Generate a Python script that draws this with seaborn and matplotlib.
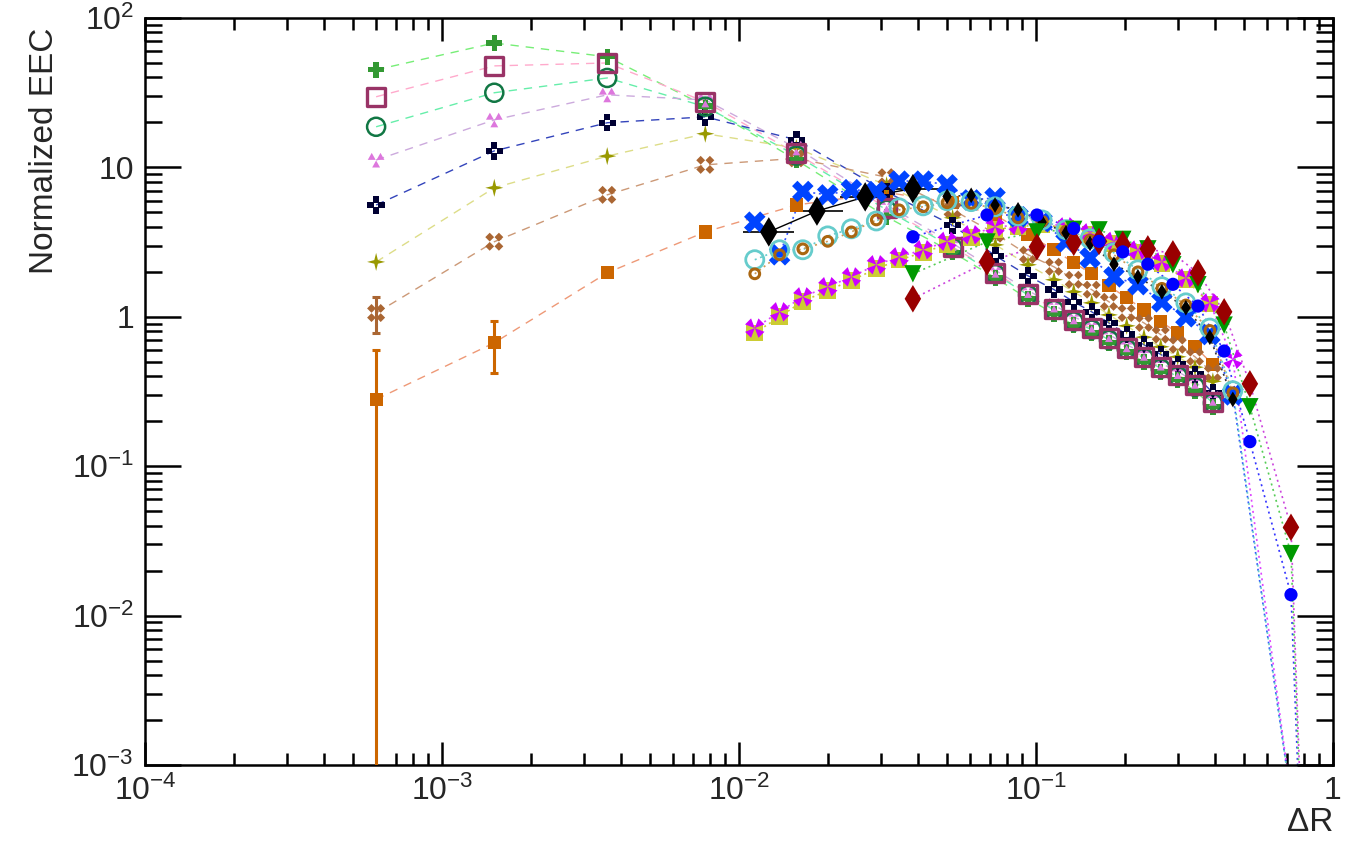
import numpy as np
import pandas as pd
import matplotlib
matplotlib.use("Agg")
import matplotlib.pyplot as plt
from matplotlib.path import Path
from matplotlib.ticker import LogLocator, FuncFormatter, NullFormatter
import seaborn as sns

# ---------------------------------------------------------------- data
# Delta R bin centres: wide bins at small angle, finer ones at large angle
dr_wide = [6.0e-4, 1.5e-3, 3.6e-3, 7.7e-3, 1.56e-2, 3.14e-2, 5.24e-2, 7.3e-2, 9.4e-2,
           0.115, 0.134, 0.154, 0.176, 0.202, 0.231, 0.263, 0.300, 0.343, 0.394]
dr_fine = [0.0113, 0.0137, 0.0164, 0.0199, 0.0239, 0.0290, 0.0346, 0.0417, 0.0502,
           0.0605, 0.0728, 0.0870, 0.1048, 0.1262, 0.1520, 0.1830, 0.2204, 0.2654,
           0.3196, 0.3849, 0.4600]
dr_black = [0.0126, 0.0183, 0.0266, 0.0385]
dr_black_fine = [0.0502, 0.0605, 0.0728, 0.0870, 0.1048, 0.1262, 0.1520, 0.1830,
                 0.2204, 0.2654, 0.3196, 0.3849, 0.4600]
dr_tail = [0.0385, 0.0684, 0.1007, 0.134, 0.163, 0.196, 0.238, 0.289, 0.351, 0.430,
           0.525, 0.722, 0.870]

# EEC values, wide-bin samples
eec_green_cross = [45, 68, 55, 25.8, 11.2, 4.67, 2.7, 1.82, 1.32,
                   1.05, 0.88, 0.78, 0.67, 0.58, 0.50, 0.43, 0.38, 0.32, 0.25]
eec_open_square = [29.7, 47.8, 50, 27.5, 12.4, 5.36, 2.94, 1.97, 1.43,
                   1.13, 0.95, 0.84, 0.72, 0.62, 0.54, 0.46, 0.41, 0.35, 0.27]
eec_open_circle = [18.7, 31.6, 39.7, 25.5, 12.0, 5.2, 2.9, 1.93, 1.40,
                   1.11, 0.93, 0.82, 0.70, 0.61, 0.53, 0.45, 0.40, 0.34, 0.265]
eec_triangles = [11.2, 20.8, 30.6, 28.3, 13.5, 5.6, 3.1, 2.05, 1.5,
                 1.2, 1.0, 0.88, 0.76, 0.65, 0.57, 0.49, 0.43, 0.37, 0.285]
eec_checker = [5.6, 12.9, 19.9, 21.8, 15.3, 6.85, 4.1, 2.56, 1.88,
               1.52, 1.26, 1.08, 0.91, 0.76, 0.65, 0.56, 0.48, 0.41, 0.31]
eec_star = [2.33, 7.3, 11.9, 16.8, 13.5, 7.6, 4.6, 3.03, 2.23,
            1.77, 1.47, 1.24, 1.03, 0.87, 0.73, 0.63, 0.54, 0.46, 0.37]
eec_clover = [1.06, 3.18, 6.55, 10.4, 11.5, 8.6, 5.2, 3.6, 2.6,
              2.16, 1.77, 1.52, 1.26, 1.06, 0.91, 0.76, 0.65, 0.54, 0.42]
eec_orange = [0.28, 0.67, 1.97, 3.7, 5.6, 6.8, 5.8, 4.8, 3.54,
              2.81, 2.3, 1.94, 1.61, 1.34, 1.11, 0.93, 0.78, 0.63, 0.48]

# EEC values, fine-bin samples
eec_blue_x = [4.3, 2.6, 6.9, 6.55, 7.1, 6.9, 8.1, 8.1, 7.65, 6.06, 6.25, 4.67, 4.33,
              3.18, 2.48, 1.85, 1.64, 1.26, 1.0, 0.76, 0.30]
eec_cyan = [2.41, 2.81, 2.81, 3.48, 3.88, 4.38, 5.36, 5.53, 5.98, 5.9, 5.45, 4.74,
            4.45, 3.83, 3.33, 2.68, 2.06, 1.59, 1.24, 0.84, 0.32]
eec_ring = [1.94, 2.6, 2.85, 3.2, 3.7, 4.45, 5.2, 5.45, 5.8, 5.75, 5.3, 4.6, 4.35,
            3.75, 3.25, 2.6, 2.0, 1.55, 1.2, 0.81, 0.31]
eec_pinwheel = [0.84, 1.08, 1.36, 1.59, 1.85, 2.23, 2.52, 2.81, 3.2, 3.54, 4.0, 4.1,
                4.3, 4.0, 3.65, 3.2, 2.8, 2.33, 1.82, 1.24, 0.52]
eec_yellow = [0.78, 1.0, 1.27, 1.5, 1.75, 2.1, 2.4, 2.7, 3.05, 3.4, 3.85, 4.0, 4.15,
              3.9, 3.55, 3.1, 2.72, 2.27, 1.78, 1.22]
eec_black = [3.7, 5.1, 6.35, 7.2]
eec_black_small = [6.4, 6.5, 5.6, 5.2, 4.3, 3.65, 3.1, 2.25, 1.85, 1.47, 1.15, 0.73, 0.28]
eec_blue_dot = [3.43, 4.8, 4.8, 3.9, 3.2, 2.72, 2.25, 1.65, 1.18, 0.59, 0.146, 0.0138, 1e-6]
eec_green_tri = [1.94, 3.17, 3.7, 3.85, 3.82, 3.3, 2.85, 2.23, 1.64, 0.88, 0.25, 0.026, 1e-6]
eec_darkred = [1.32, 2.33, 2.94, 3.15, 3.2, 3.05, 2.85, 2.64, 1.97, 1.08, 0.356, 0.039, 1e-6]

# large-angle end-point where the fine-bin curves drop out of range
dr_end = [0.4600, 0.722]
eec_end_blue_x = [0.30, 6e-4]
eec_end_cyan = [0.32, 6e-4]
eec_end_pinwheel = [0.52, 6e-4]

# statistical errors (low, high) on the first wide bins
err_orange = [[0.2799, 0.25], [0.32, 0.27]]
err_clover = [[0.28, 0.24], [0.3, 0.3]]


# ---------------------------------------------------------------- markers
def shape(polys):
    verts, codes = [], []
    for p in polys:
        verts += list(p) + [p[0]]
        codes += [Path.MOVETO] + [Path.LINETO] * (len(p) - 1) + [Path.CLOSEPOLY]
    return Path(verts, codes)


def tri(cx, cy, w, h):
    return [(cx - w, cy - h / 2), (cx + w, cy - h / 2), (cx, cy + h / 2)]


def sq(cx, cy, a):
    return [(cx - a, cy - a), (cx + a, cy - a), (cx + a, cy + a), (cx - a, cy + a)]


def dia(cx, cy, a):
    return [(cx, cy - a), (cx + a, cy), (cx, cy + a), (cx - a, cy)]


m_triangles = shape([tri(-0.5, 0.42, 0.45, 0.8), tri(0.5, 0.42, 0.45, 0.8),
                     tri(0.0, -0.45, 0.45, 0.8)])
m_checker = shape([sq(0, 0.62, 0.36), sq(0, -0.62, 0.36), sq(0.62, 0, 0.36),
                   sq(-0.62, 0, 0.36)])
m_star = shape([[(0, 1), (0.2, 0.2), (1, 0), (0.2, -0.2), (0, -1), (-0.2, -0.2),
                 (-1, 0), (-0.2, 0.2)]])
m_clover = shape([dia(0.5, 0.5, 0.48), dia(-0.5, 0.5, 0.48), dia(0.5, -0.5, 0.48),
                  dia(-0.5, -0.5, 0.48)])
m_pinwheel = shape([[(0, 0), (0.38, 1), (1, 0.38)], [(0, 0), (-1, 0.38), (-0.38, 1)],
                    [(0, 0), (-0.38, -1), (-1, -0.38)], [(0, 0), (1, -0.38), (0.38, -1)]])

# ---------------------------------------------------------------- style
sns.set_theme(style="ticks")
plt.rcParams["font.family"] = ["Liberation Sans", "DejaVu Sans"]
plt.rcParams["mathtext.fontset"] = "custom"
plt.rcParams["mathtext.rm"] = "Liberation Sans"
plt.rcParams["mathtext.it"] = "Liberation Sans:italic"
plt.rcParams["mathtext.bf"] = "Liberation Sans:bold"

fig = plt.figure(figsize=(13.5, 8.47), dpi=100)
ax = fig.add_axes([145 / 1350, 1 - 765 / 847, (1333 - 145) / 1350, (765 - 18) / 847])
ax.set_xscale("log")
ax.set_yscale("log")

DASH = (0, (6, 5))
DOT = (0, (1.2, 2.2))


def frame(x, y):
    return pd.DataFrame({"dr": x, "eec": y})


def curve(x, y, color, ls, lw=1.0, z=2):
    sns.lineplot(data=frame(x, y), x="dr", y="eec", color=color, linestyle=ls,
                 linewidth=lw, sort=False, estimator=None, ax=ax, zorder=z)


def points(x, y, marker, size, color, z, hollow=False, lw=0.0):
    df = frame(x, y)
    if hollow:
        sns.scatterplot(data=df, x="dr", y="eec", marker=marker, s=size ** 2,
                        facecolor="none", edgecolor=color, linewidth=lw, ax=ax,
                        zorder=z)
    else:
        sns.scatterplot(data=df, x="dr", y="eec", marker=marker, s=size ** 2,
                        color=color, edgecolor="none", linewidth=0, ax=ax, zorder=z)


# connecting lines, wide-bin family (dashed)
curve(dr_wide, eec_green_cross, "#77ee77", DASH)
curve(dr_wide, eec_open_square, "#ffaacc", DASH)
curve(dr_wide, eec_open_circle, "#66eeaa", DASH)
curve(dr_wide, eec_triangles, "#ccaadd", DASH)
curve(dr_wide, eec_checker, "#3344bb", DASH)
curve(dr_wide, eec_star, "#dddd88", DASH)
curve(dr_wide, eec_clover, "#cc9977", DASH)
curve(dr_wide, eec_orange, "#ee9977", DASH)

# connecting lines, fine-bin family (dotted)
curve(dr_fine, eec_blue_x, "#3355ff", DOT, 1.2)
curve(dr_fine, eec_cyan, "#66cccc", DOT, 1.2)
curve(dr_fine, eec_ring, "#cc9955", DOT, 1.2)
curve(dr_fine, eec_pinwheel, "#dd44ff", DOT, 1.2)
curve(dr_fine[:20], eec_yellow, "#cccc33", DOT, 1.2)
curve(dr_black, eec_black, "black", "-", 1.0)
curve(dr_black_fine, eec_black_small, "#333333", DOT, 1.2)
curve(dr_tail, eec_blue_dot, "#3333ff", DOT, 1.2)
curve(dr_tail, eec_green_tri, "#55cc55", DOT, 1.2)
curve(dr_tail, eec_darkred, "#cc44dd", DOT, 1.2)
curve(dr_end, eec_end_blue_x, "#3355ff", DOT, 1.2)
curve(dr_end, eec_end_cyan, "#66cccc", DOT, 1.2)
curve(dr_end, eec_end_pinwheel, "#dd44ff", DOT, 1.2)

# error bars on the first wide bins
ax.errorbar(dr_wide[:2], eec_orange[:2], yerr=err_orange, fmt="none",
            ecolor="#cc6600", elinewidth=2.2, capsize=3, capthick=2.2, zorder=3)
ax.errorbar(dr_wide[:1], eec_clover[:1], yerr=[err_clover[0][:1], err_clover[1][:1]],
            fmt="none", ecolor="#aa6633", elinewidth=2.2, capsize=3, capthick=2.2,
            zorder=3)

# horizontal bin widths on the wide black points
xb = np.array(dr_black)
ax.errorbar(dr_black, eec_black, xerr=[xb - xb / 1.22, xb * 1.22 - xb], fmt="none",
            ecolor="black", elinewidth=1.2, zorder=3)

# markers, wide-bin family
points(dr_wide, eec_orange, "s", 9.5, "#cc6600", 4)
points(dr_wide, eec_clover, m_clover, 13, "#aa6633", 4)
points(dr_wide, eec_star, m_star, 13, "#999900", 4)
points(dr_wide, eec_checker, m_checker, 12.5, "#000033", 4)
points(dr_wide, eec_green_cross, "P", 11.5, "#339933", 4)
points(dr_wide, eec_triangles, m_triangles, 12, "#dd77dd", 4)
points(dr_wide, eec_open_circle, "o", 13, "#117744", 5, hollow=True, lw=1.8)
points(dr_wide, eec_open_square, "s", 13, "#993366", 5, hollow=True, lw=2.4)

# markers, fine-bin family
points(dr_fine[:20], eec_yellow, "s", 12, "#cccc33", 6)
points(dr_fine, eec_pinwheel, m_pinwheel, 14, "#cc00ff", 6)
points(dr_fine, eec_blue_x, "X", 15.5, "#0044ff", 6)
points(dr_black, eec_black, "d", 15, "black", 6)
points(dr_fine, eec_cyan, "o", 13, "#66cccc", 7, hollow=True, lw=2.0)
points(dr_fine, eec_ring, "o", 7, "#aa6611", 7, hollow=True, lw=2.2)
points(dr_black_fine, eec_black_small, "d", 8, "black", 7)
points(dr_tail, eec_green_tri, "v", 12.5, "#009900", 7)
points(dr_tail, eec_darkred, "d", 14, "#990000", 7)
points(dr_tail, eec_blue_dot, "o", 9.5, "#0000ff", 7)

# ---------------------------------------------------------------- axes
ax.set_xlim(1e-4, 1)
ax.set_ylim(1e-3, 1e2)
ax.set_xlabel("")
ax.set_ylabel("")


def log_label(v, pos):
    e = int(round(np.log10(v)))
    if e == 0:
        return "1"
    if e == 1:
        return "10"
    return r"$\mathregular{10^{%d}}$" % e


for axis in (ax.xaxis, ax.yaxis):
    axis.set_major_locator(LogLocator(base=10, numticks=12))
    axis.set_minor_locator(LogLocator(base=10, subs=np.arange(2, 10), numticks=12))
    axis.set_major_formatter(FuncFormatter(log_label))
    axis.set_minor_formatter(NullFormatter())

ax.tick_params(which="both", direction="in", top=True, right=True, width=1.8,
               labelsize=23, color="black")
ax.tick_params(axis="x", which="major", length=16.5, pad=8)
ax.tick_params(axis="x", which="minor", length=8.5)
ax.tick_params(axis="y", which="major", length=26, pad=8)
ax.tick_params(axis="y", which="minor", length=12)
for s in ax.spines.values():
    s.set_linewidth(1.8)
    s.set_color("black")

fig.text(45 / 1350, 1 - 28 / 847, "Normalized EEC", rotation=90, ha="center",
         va="top", fontsize=24)
fig.text(1333 / 1350, 1 - 838 / 847, "ΔR", ha="right", va="bottom", fontsize=24)

fig.savefig("out.png", dpi=100)
